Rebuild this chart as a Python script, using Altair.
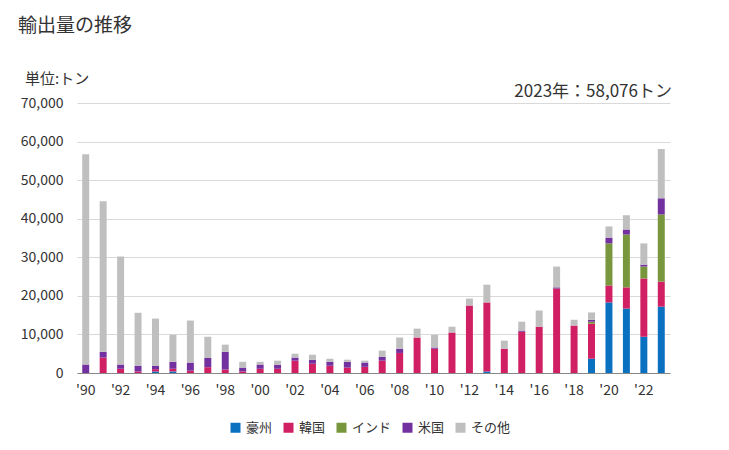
import altair as alt
import pandas as pd

years = list(range(1990, 2024))
series = ["豪州", "韓国", "インド", "米国", "その他"]
colors = ["#0a70c0", "#d01f63", "#78963c", "#7331a0", "#bfbfbf"]

# values in tonnes
australia = [0, 0, 0, 0, 400, 400, 0, 0, 0, 0, 0, 0, 0, 0, 0, 0, 0, 0, 0, 0,
             0, 0, 0, 400, 0, 0, 0, 0, 0, 3700, 18300, 16700, 9400, 17200]
korea = [0, 4000, 1100, 400, 600, 700, 600, 1500, 900, 400, 1100, 1100, 3200, 2400,
         1900, 1400, 1600, 3200, 5200, 9200, 6300, 10500, 17500, 17900, 6300, 10700,
         12000, 21900, 12300, 9100, 4400, 5500, 15100, 6500]
india = [0] * 29 + [500, 10900, 13700, 3100, 17400]
usa = [2200, 1500, 1100, 1500, 900, 1800, 2100, 2400, 4600, 1000, 1100, 1050, 800,
       1050, 1000, 1500, 1100, 1000, 1100, 0, 300, 0, 0, 0, 0, 300, 0, 300, 0, 500,
       1500, 1300, 500, 4200]
other = [54500, 39000, 28000, 13700, 12200, 7000, 10900, 5500, 1850, 1500, 700, 1050,
         1000, 1300, 800, 550, 500, 1600, 2900, 2300, 3300, 1500, 1800, 4600, 2100,
         2300, 4200, 5400, 1500, 1900, 2900, 3700, 5500, 12776]

rows = []
for i, y in enumerate(years):
    for k, (name, vals) in enumerate(zip(series, [australia, korea, india, usa, other])):
        rows.append({"year": y, "country": name, "value": vals[i], "idx": k})
df = pd.DataFrame(rows)

FONT = "Noto Sans CJK JP"

bars = alt.Chart(df).mark_bar().encode(
    x=alt.X("year:O", title=None,
            scale=alt.Scale(paddingInner=0.6, paddingOuter=0.3),
            axis=alt.Axis(labelAngle=0, ticks=False, domainColor="#888888",
                          labelExpr="(datum.value % 2 == 0) ? \"'\" + substring(toString(datum.value), 2, 4) : ''",
                          labelOverlap=False, labelPadding=10, labelFontSize=14,
                          labelColor="#333333", labelFont=FONT)),
    y=alt.Y("value:Q", title=None,
            scale=alt.Scale(domain=[0, 70000]),
            axis=alt.Axis(values=list(range(0, 70001, 10000)), format=",d", ticks=False,
                          domain=False, gridColor="#d9d9d9", labelPadding=14,
                          labelFontSize=14, labelColor="#333333", labelFont=FONT)),
    color=alt.Color("country:N", title=None,
                    scale=alt.Scale(domain=series, range=colors),
                    legend=alt.Legend(orient="none", direction="horizontal",
                                      legendX=152, legendY=318, padding=0,
                                      symbolType="square", symbolSize=100,
                                      symbolStrokeWidth=0, labelFontSize=13,
                                      labelFont=FONT, labelColor="#333333",
                                      columnPadding=9)),
    order=alt.Order("idx:Q", sort="ascending"),
)

title = alt.Chart(pd.DataFrame({"t": ["輸出量の推移"]})).mark_text(
    align="left", baseline="alphabetic", fontSize=19, font=FONT, color="#333333"
).encode(text="t:N", x=alt.value(-59), y=alt.value(-71))

unit = alt.Chart(pd.DataFrame({"t": ["単位:トン"]})).mark_text(
    align="left", baseline="alphabetic", fontSize=15, font=FONT, color="#333333"
).encode(text="t:N", x=alt.value(-52), y=alt.value(-19))

note = alt.Chart(pd.DataFrame({"t": ["2023年：58,076トン"]})).mark_text(
    align="right", baseline="alphabetic", fontSize=17, font=FONT, color="#333333"
).encode(text="t:N", x=alt.value(595), y=alt.value(-6))

chart = alt.layer(bars, title, unit, note).properties(
    width=593, height=270,
    autosize=alt.AutoSizeParams(type="none"),
    padding={"left": 69, "top": 95, "right": 51, "bottom": 70},
).configure_view(stroke=None)

chart.save("out.html", embed_options={"renderer": "svg", "actions": False})
